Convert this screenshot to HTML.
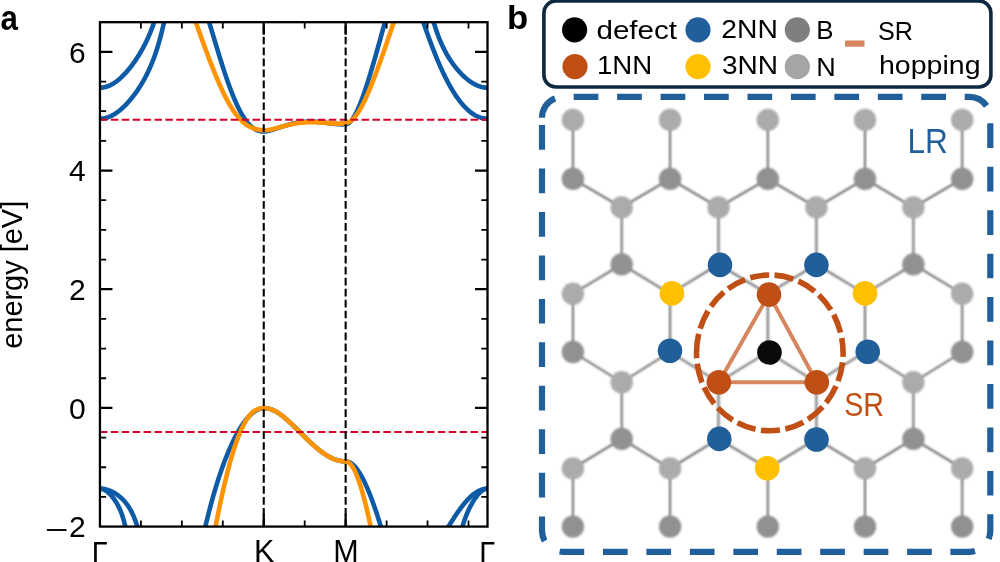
<!DOCTYPE html>
<html><head><meta charset="utf-8"><title>figure</title>
<style>html,body{margin:0;padding:0;background:#fff;overflow:hidden;}svg{display:block;will-change:transform;}text{font-family:"Liberation Sans",sans-serif;}</style>
</head><body>
<svg width="1000" height="562" viewBox="0 0 1000 562">
<defs><clipPath id="ax"><rect x="99.95" y="22.19" width="387.55" height="504.39"/></clipPath>
<filter id="bl" x="-10%" y="-10%" width="120%" height="120%"><feGaussianBlur stdDeviation="0.85"/></filter><filter id="bl2" x="-10%" y="-10%" width="120%" height="120%"><feGaussianBlur stdDeviation="0.8"/></filter></defs>
<rect width="1000" height="562" fill="#fff"/>
<g clip-path="url(#ax)" fill="none" stroke-linejoin="round" stroke-linecap="butt">
<path d="M99.95 87.70L100.45 87.69L100.95 87.68L101.45 87.65L101.95 87.60L102.45 87.55L102.95 87.49L103.45 87.41L103.95 87.32L104.45 87.22L104.95 87.11L105.45 86.98L105.95 86.85L106.45 86.70L106.95 86.54L107.45 86.37L107.95 86.19L108.45 86.00L108.95 85.79L109.45 85.58L109.95 85.35L110.45 85.11L110.95 84.86L111.45 84.60L111.95 84.33L112.45 84.05L112.95 83.75L113.45 83.45L113.95 83.13L114.45 82.81L114.95 82.47L115.45 82.13L115.95 81.77L116.45 81.40L116.95 81.03L117.45 80.64L117.95 80.24L118.45 79.83L118.95 79.42L119.45 78.99L119.95 78.55L120.45 78.11L120.95 77.65L121.45 77.18L121.95 76.71L122.45 76.22L122.95 75.73L123.45 75.23L123.95 74.71L124.45 74.19L124.95 73.66L125.45 73.12L125.95 72.57L126.45 72.01L126.95 71.44L127.45 70.87L127.95 70.28L128.45 69.69L128.95 69.08L129.45 68.47L129.95 67.85L130.45 67.21L130.95 66.57L131.45 65.92L131.95 65.26L132.45 64.59L132.95 63.91L133.45 63.22L133.95 62.52L134.45 61.82L134.95 61.10L135.45 60.37L135.95 59.63L136.45 58.88L136.95 58.11L137.45 57.34L137.95 56.56L138.45 55.76L138.95 54.95L139.45 54.13L139.95 53.30L140.45 52.45L140.95 51.60L141.45 50.72L141.95 49.84L142.45 48.93L142.95 48.02L143.45 47.09L143.95 46.14L144.45 45.17L144.95 44.19L145.45 43.19L145.95 42.17L146.45 41.14L146.95 40.08L147.45 39.01L147.95 37.91L148.45 36.79L148.95 35.65L149.45 34.49L149.95 33.30L150.45 32.08L150.95 30.84L151.45 29.58L151.95 28.28L152.45 26.96L152.95 25.60L153.45 24.22L153.95 22.80L154.45 21.35L154.95 19.87L155.45 18.35L155.95 16.79L156.45 15.19L156.95 13.55L157.45 11.88L157.95 10.15L158.45 8.39L158.95 6.58L159.45 4.72L159.95 2.81L160.45 0.85L160.95 -1.16L161.45 -3.23L161.95 -5.36" stroke="#0d5aa7" stroke-width="4.60"/>
<path d="M487.50 87.70L487.00 87.69L486.50 87.68L486.00 87.65L485.50 87.62L485.00 87.57L484.50 87.51L484.00 87.44L483.50 87.36L483.00 87.27L482.50 87.17L482.00 87.06L481.50 86.94L481.00 86.81L480.50 86.66L480.00 86.51L479.50 86.35L479.00 86.18L478.50 85.99L478.00 85.80L477.50 85.60L477.00 85.38L476.50 85.16L476.00 84.93L475.50 84.68L475.00 84.43L474.50 84.17L474.00 83.89L473.50 83.61L473.00 83.32L472.50 83.02L472.00 82.71L471.50 82.39L471.00 82.06L470.50 81.72L470.00 81.37L469.50 81.01L469.00 80.64L468.50 80.27L468.00 79.88L467.50 79.49L467.00 79.08L466.50 78.67L466.00 78.25L465.50 77.82L465.00 77.38L464.50 76.93L464.00 76.47L463.50 76.00L463.00 75.53L462.50 75.04L462.00 74.55L461.50 74.04L461.00 73.53L460.50 73.01L460.00 72.47L459.50 71.93L459.00 71.38L458.50 70.82L458.00 70.25L457.50 69.66L457.00 69.07L456.50 68.47L456.00 67.86L455.50 67.23L455.00 66.60L454.50 65.95L454.00 65.29L453.50 64.62L453.00 63.94L452.50 63.24L452.00 62.53L451.50 61.81L451.00 61.08L450.50 60.33L450.00 59.57L449.50 58.79L449.00 57.99L448.50 57.18L448.00 56.35L447.50 55.51L447.00 54.65L446.50 53.77L446.00 52.87L445.50 51.95L445.00 51.01L444.50 50.05L444.00 49.07L443.50 48.06L443.00 47.04L442.50 45.98L442.00 44.90L441.50 43.80L441.00 42.67L440.50 41.50L440.00 40.31L439.50 39.09L439.00 37.84L438.50 36.55L438.00 35.23L437.50 33.87L437.00 32.48L436.50 31.05L436.00 29.57L435.50 28.06L435.00 26.50L434.50 24.90L434.00 23.25L433.50 21.56L433.00 19.81L432.50 18.01L432.00 16.16L431.50 14.25L431.00 12.29L430.50 10.27L430.00 8.18L429.50 6.03L429.00 3.82L428.50 1.53L428.00 -0.82L427.50 -3.25L427.00 -5.75L426.50 -8.33L426.00 -11.00" stroke="#0d5aa7" stroke-width="4.60"/>
<path d="M99.95 118.70L100.45 118.69L100.95 118.68L101.45 118.65L101.95 118.61L102.45 118.56L102.95 118.50L103.45 118.43L103.95 118.35L104.45 118.25L104.95 118.15L105.45 118.03L105.95 117.91L106.45 117.77L106.95 117.62L107.45 117.47L107.95 117.30L108.45 117.12L108.95 116.93L109.45 116.73L109.95 116.51L110.45 116.29L110.95 116.06L111.45 115.82L111.95 115.57L112.45 115.30L112.95 115.03L113.45 114.75L113.95 114.46L114.45 114.15L114.95 113.84L115.45 113.52L115.95 113.19L116.45 112.85L116.95 112.49L117.45 112.13L117.95 111.76L118.45 111.38L118.95 111.00L119.45 110.60L119.95 110.19L120.45 109.77L120.95 109.35L121.45 108.92L121.95 108.47L122.45 108.02L122.95 107.56L123.45 107.09L123.95 106.61L124.45 106.12L124.95 105.63L125.45 105.12L125.95 104.61L126.45 104.09L126.95 103.56L127.45 103.02L127.95 102.47L128.45 101.92L128.95 101.35L129.45 100.78L129.95 100.19L130.45 99.60L130.95 99.00L131.45 98.39L131.95 97.77L132.45 97.15L132.95 96.51L133.45 95.87L133.95 95.21L134.45 94.55L134.95 93.87L135.45 93.19L135.95 92.49L136.45 91.79L136.95 91.07L137.45 90.35L137.95 89.61L138.45 88.86L138.95 88.10L139.45 87.33L139.95 86.55L140.45 85.75L140.95 84.94L141.45 84.12L141.95 83.29L142.45 82.44L142.95 81.58L143.45 80.70L143.95 79.80L144.45 78.90L144.95 77.97L145.45 77.03L145.95 76.07L146.45 75.09L146.95 74.10L147.45 73.08L147.95 72.05L148.45 70.99L148.95 69.92L149.45 68.82L149.95 67.69L150.45 66.55L150.95 65.38L151.45 64.18L151.95 62.96L152.45 61.71L152.95 60.43L153.45 59.13L153.95 57.79L154.45 56.42L154.95 55.02L155.45 53.58L155.95 52.11L156.45 50.60L156.95 49.06L157.45 47.47L157.95 45.85L158.45 44.18L158.95 42.47L159.45 40.72L159.95 38.91L160.45 37.06L160.95 35.17L161.45 33.22L161.95 31.21L162.45 29.15L162.95 27.04L163.45 24.86L163.95 22.63L164.45 20.33L164.95 17.97L165.45 15.54L165.95 13.04L166.45 10.47L166.95 7.83L167.45 5.11L167.95 2.31L168.45 -0.57L168.95 -3.53L169.45 -6.58L169.95 -9.72L170.45 -12.95L170.95 -16.27L171.45 -19.69L171.95 -23.21" stroke="#0d5aa7" stroke-width="4.60"/>
<path d="M487.50 118.70L487.00 118.69L486.50 118.68L486.00 118.65L485.50 118.61L485.00 118.56L484.50 118.50L484.00 118.42L483.50 118.34L483.00 118.24L482.50 118.14L482.00 118.02L481.50 117.89L481.00 117.75L480.50 117.60L480.00 117.43L479.50 117.26L479.00 117.07L478.50 116.88L478.00 116.67L477.50 116.45L477.00 116.21L476.50 115.97L476.00 115.72L475.50 115.45L475.00 115.17L474.50 114.88L474.00 114.58L473.50 114.27L473.00 113.95L472.50 113.61L472.00 113.27L471.50 112.91L471.00 112.54L470.50 112.15L470.00 111.76L469.50 111.35L469.00 110.94L468.50 110.51L468.00 110.07L467.50 109.61L467.00 109.15L466.50 108.67L466.00 108.18L465.50 107.68L465.00 107.17L464.50 106.65L464.00 106.11L463.50 105.56L463.00 105.00L462.50 104.43L462.00 103.84L461.50 103.24L461.00 102.63L460.50 102.01L460.00 101.38L459.50 100.73L459.00 100.07L458.50 99.40L458.00 98.72L457.50 98.02L457.00 97.31L456.50 96.59L456.00 95.86L455.50 95.12L455.00 94.36L454.50 93.59L454.00 92.80L453.50 92.01L453.00 91.20L452.50 90.38L452.00 89.55L451.50 88.70L451.00 87.85L450.50 86.98L450.00 86.09L449.50 85.20L449.00 84.29L448.50 83.37L448.00 82.44L447.50 81.49L447.00 80.54L446.50 79.57L446.00 78.58L445.50 77.59L445.00 76.58L444.50 75.56L444.00 74.53L443.50 73.49L443.00 72.43L442.50 71.37L442.00 70.29L441.50 69.19L441.00 68.09L440.50 66.97L440.00 65.85L439.50 64.71L439.00 63.56L438.50 62.39L438.00 61.22L437.50 60.03L437.00 58.84L436.50 57.63L436.00 56.41L435.50 55.18L435.00 53.94L434.50 52.68L434.00 51.42L433.50 50.15L433.00 48.86L432.50 47.57L432.00 46.26L431.50 44.95L431.00 43.62L430.50 42.29L430.00 40.94L429.50 39.59L429.00 38.23L428.50 36.85L428.00 35.47L427.50 34.08L427.00 32.69L426.50 31.28L426.00 29.87L425.50 28.45L425.00 27.02L424.50 25.58L424.00 24.14L423.50 22.68L423.00 21.23L422.50 19.76L422.00 18.30L421.50 16.82L421.00 15.34L420.50 13.86L420.00 12.37L419.50 10.87L419.00 9.37L418.50 7.87L418.00 6.37L417.50 4.86L417.00 3.35L416.50 1.83L416.00 0.32L415.50 -1.20" stroke="#0d5aa7" stroke-width="4.60"/>
<path d="M99.95 488.70L100.45 488.71L100.95 488.72L101.45 488.75L101.95 488.78L102.45 488.83L102.95 488.89L103.45 488.95L103.95 489.03L104.45 489.12L104.95 489.22L105.45 489.33L105.95 489.45L106.45 489.57L106.95 489.71L107.45 489.86L107.95 490.02L108.45 490.19L108.95 490.37L109.45 490.56L109.95 490.76L110.45 490.97L110.95 491.19L111.45 491.41L111.95 491.65L112.45 491.90L112.95 492.16L113.45 492.43L113.95 492.71L114.45 493.00L114.95 493.30L115.45 493.60L115.95 493.92L116.45 494.26L116.95 494.60L117.45 494.95L117.95 495.32L118.45 495.69L118.95 496.08L119.45 496.48L119.95 496.89L120.45 497.32L120.95 497.76L121.45 498.22L121.95 498.69L122.45 499.17L122.95 499.67L123.45 500.19L123.95 500.73L124.45 501.28L124.95 501.86L125.45 502.45L125.95 503.07L126.45 503.71L126.95 504.37L127.45 505.06L127.95 505.78L128.45 506.52L128.95 507.29L129.45 508.10L129.95 508.94L130.45 509.81L130.95 510.72L131.45 511.67L131.95 512.66L132.45 513.70L132.95 514.78L133.45 515.91L133.95 517.09L134.45 518.32L134.95 519.61L135.45 520.96L135.95 522.38L136.45 523.86L136.95 525.41L137.45 527.04L137.95 528.74L138.45 530.53L138.95 532.40L139.45 534.36L139.95 536.41L140.45 538.57L140.95 540.83L141.45 543.20L141.95 545.68L142.45 548.29L142.95 551.02L143.45 553.88L143.95 556.88L144.45 560.03L144.95 563.33" stroke="#0d5aa7" stroke-width="4.60"/>
<path d="M487.50 488.70L487.00 488.71L486.50 488.73L486.00 488.76L485.50 488.82L485.00 488.88L484.50 488.96L484.00 489.05L483.50 489.16L483.00 489.28L482.50 489.42L482.00 489.57L481.50 489.74L481.00 489.91L480.50 490.11L480.00 490.32L479.50 490.54L479.00 490.77L478.50 491.02L478.00 491.28L477.50 491.56L477.00 491.85L476.50 492.16L476.00 492.47L475.50 492.80L475.00 493.15L474.50 493.51L474.00 493.88L473.50 494.26L473.00 494.66L472.50 495.07L472.00 495.49L471.50 495.93L471.00 496.37L470.50 496.83L470.00 497.30L469.50 497.79L469.00 498.29L468.50 498.79L468.00 499.31L467.50 499.84L467.00 500.39L466.50 500.94L466.00 501.51L465.50 502.08L465.00 502.67L464.50 503.27L464.00 503.87L463.50 504.49L463.00 505.12L462.50 505.75L462.00 506.40L461.50 507.06L461.00 507.72L460.50 508.40L460.00 509.08L459.50 509.77L459.00 510.47L458.50 511.18L458.00 511.89L457.50 512.61L457.00 513.34L456.50 514.08L456.00 514.82L455.50 515.57L455.00 516.33L454.50 517.09L454.00 517.86L453.50 518.63L453.00 519.40L452.50 520.19L452.00 520.97L451.50 521.76L451.00 522.56L450.50 523.35L450.00 524.15L449.50 524.95L449.00 525.76L448.50 526.56L448.00 527.37L447.50 528.18L447.00 528.99L446.50 529.80L446.00 530.61L445.50 531.42L445.00 532.23L444.50 533.03L444.00 533.84L443.50 534.64L443.00 535.44L442.50 536.24L442.00 537.03L441.50 537.82L441.00 538.60" stroke="#0d5aa7" stroke-width="4.60"/>
<path d="M99.95 488.70L100.45 488.71L100.95 488.76L101.45 488.83L101.95 488.93L102.45 489.06L102.95 489.22L103.45 489.41L103.95 489.62L104.45 489.87L104.95 490.13L105.45 490.43L105.95 490.75L106.45 491.10L106.95 491.47L107.45 491.86L107.95 492.28L108.45 492.72L108.95 493.18L109.45 493.67L109.95 494.17L110.45 494.70L110.95 495.25L111.45 495.82L111.95 496.41L112.45 497.02L112.95 497.66L113.45 498.31L113.95 498.99L114.45 499.69L114.95 500.42L115.45 501.17L115.95 501.95L116.45 502.76L116.95 503.61L117.45 504.48L117.95 505.40L118.45 506.36L118.95 507.36L119.45 508.41L119.95 509.52L120.45 510.69L120.95 511.92L121.45 513.23L121.95 514.62L122.45 516.10L122.95 517.67L123.45 519.35L123.95 521.15L124.45 523.08L124.95 525.14L125.45 527.36L125.95 529.74L126.45 532.30L126.95 535.06L127.45 538.03L127.95 541.23L128.45 544.67L128.95 548.39L129.45 552.40L129.95 556.71L130.45 561.37L130.95 566.38L131.45 571.79L131.95 577.60L132.45 583.87L132.95 590.61" stroke="#0d5aa7" stroke-width="4.60"/>
<path d="M487.50 488.70L487.00 488.72L486.50 488.77L486.00 488.85L485.50 488.97L485.00 489.12L484.50 489.31L484.00 489.53L483.50 489.78L483.00 490.06L482.50 490.37L482.00 490.72L481.50 491.10L481.00 491.50L480.50 491.94L480.00 492.41L479.50 492.90L479.00 493.42L478.50 493.97L478.00 494.55L477.50 495.15L477.00 495.77L476.50 496.43L476.00 497.10L475.50 497.80L475.00 498.53L474.50 499.28L474.00 500.05L473.50 500.84L473.00 501.66L472.50 502.50L472.00 503.37L471.50 504.26L471.00 505.18L470.50 506.12L470.00 507.09L469.50 508.08L469.00 509.11L468.50 510.17L468.00 511.26L467.50 512.39L467.00 513.56L466.50 514.77L466.00 516.02L465.50 517.32L465.00 518.68L464.50 520.09L464.00 521.56L463.50 523.11L463.00 524.72L462.50 526.41L462.00 528.20L461.50 530.07L461.00 532.05L460.50 534.13L460.00 536.34L459.50 538.67L459.00 541.15L458.50 543.77L458.00 546.56L457.50 549.53L457.00 552.68L456.50 556.03L456.00 559.61L455.50 563.41L455.00 567.47" stroke="#0d5aa7" stroke-width="4.60"/>
<path d="M198.00 556.58L198.50 556.58L199.00 555.74L199.50 553.29L200.00 550.87L200.50 548.47L201.00 546.11L201.50 543.77L202.00 541.45L202.50 539.17L203.00 536.91L203.50 534.68L204.00 532.47L204.50 530.29L205.00 528.14L205.50 526.01L206.00 523.90L206.50 521.82L207.00 519.76L207.50 517.73L208.00 515.73L208.50 513.74L209.00 511.78L209.50 509.84L210.00 507.93L210.50 506.04L211.00 504.17L211.50 502.32L212.00 500.49L212.50 498.69L213.00 496.91L213.50 495.15L214.00 493.41L214.50 491.69L215.00 490.00L215.50 488.32L216.00 486.66L216.50 485.03L217.00 483.41L217.50 481.82L218.00 480.24L218.50 478.68L219.00 477.15L219.50 475.63L220.00 474.13L220.50 472.65L221.00 471.19L221.50 469.74L222.00 468.32L222.50 466.91L223.00 465.53L223.50 464.16L224.00 462.81L224.50 461.47L225.00 460.16L225.50 458.86L226.00 457.58L226.50 456.31L227.00 455.07L227.50 453.84L228.00 452.62L228.50 451.43L229.00 450.25L229.50 449.09L230.00 447.94L230.50 446.81L231.00 445.70L231.50 444.61L232.00 443.53L232.50 442.46L233.00 441.42L233.50 440.39L234.00 439.37L234.50 438.37L235.00 437.39L235.50 436.43L236.00 435.48L236.50 434.54L237.00 433.62L237.50 432.72L238.00 431.83L238.50 430.96L239.00 430.11L239.50 429.27L240.00 428.45L240.50 427.64L241.00 426.85L241.50 426.07L242.00 425.31L242.50 424.57L243.00 423.84L243.50 423.13L244.00 422.43L244.50 421.75L245.00 421.08L245.50 420.43L246.00 419.80L246.50 419.18L247.00 418.58L247.50 418.00L248.00 417.43L248.50 416.88L249.00 416.34L249.50 415.82L250.00 415.32L250.50 414.83L251.00 414.36L251.50 413.91L252.00 413.47L252.50 413.05L253.00 412.65L253.50 412.27L254.00 411.90L254.50 411.55L255.00 411.21L255.50 410.89L256.00 410.60L256.50 410.31L257.00 410.05L257.50 409.80L258.00 409.58L258.50 409.37L259.00 409.18L259.50 409.00L260.00 408.85L260.50 408.71L261.00 408.60L261.50 408.50L262.00 408.42L262.50 408.36L263.00 408.32L263.50 408.30L263.95 408.11L264.45 408.12L264.95 408.14L265.45 408.18L265.95 408.22L266.45 408.28L266.95 408.35L267.45 408.43L267.95 408.52L268.45 408.63L268.95 408.74L269.45 408.87L269.95 409.01L270.45 409.16L270.95 409.32L271.45 409.49L271.95 409.68L272.45 409.87L272.95 410.08L273.45 410.30L273.95 410.53L274.45 410.78L274.95 411.03L275.45 411.29L275.95 411.57L276.45 411.86L276.95 412.15L277.45 412.46L277.95 412.78L278.45 413.10L278.95 413.44L279.45 413.78L279.95 414.13L280.45 414.49L280.95 414.86L281.45 415.24L281.95 415.62L282.45 416.01L282.95 416.40L283.45 416.81L283.95 417.21L284.45 417.63L284.95 418.05L285.45 418.47L285.95 418.90L286.45 419.33L286.95 419.77L287.45 420.22L287.95 420.66L288.45 421.11L288.95 421.57L289.45 422.03L289.95 422.49L290.45 422.95L290.95 423.42L291.45 423.89L291.95 424.36L292.45 424.84L292.95 425.32L293.45 425.80L293.95 426.28L294.45 426.76L294.95 427.25L295.45 427.73L295.95 428.22L296.45 428.71L296.95 429.20L297.45 429.70L297.95 430.19L298.45 430.68L298.95 431.18L299.45 431.67L299.95 432.17L300.45 432.66L300.95 433.15L301.45 433.65L301.95 434.14L302.45 434.64L302.95 435.13L303.45 435.62L303.95 436.12L304.45 436.61L304.95 437.10L305.45 437.58L305.95 438.07L306.45 438.56L306.95 439.04L307.45 439.52L307.95 440.00L308.45 440.48L308.95 440.95L309.45 441.43L309.95 441.90L310.45 442.37L310.95 442.83L311.45 443.29L311.95 443.75L312.45 444.21L312.95 444.66L313.45 445.11L313.95 445.56L314.45 446.00L314.95 446.44L315.45 446.87L315.95 447.30L316.45 447.73L316.95 448.15L317.45 448.56L317.95 448.98L318.45 449.38L318.95 449.79L319.45 450.18L319.95 450.58L320.45 450.96L320.95 451.35L321.45 451.72L321.95 452.09L322.45 452.46L322.95 452.82L323.45 453.17L323.95 453.52L324.45 453.86L324.95 454.19L325.45 454.52L325.95 454.84L326.45 455.16L326.95 455.46L327.45 455.77L327.95 456.06L328.45 456.35L328.95 456.63L329.45 456.90L329.95 457.17L330.45 457.43L330.95 457.68L331.45 457.92L331.95 458.16L332.45 458.38L332.95 458.60L333.45 458.82L333.95 459.02L334.45 459.22L334.95 459.41L335.45 459.59L335.95 459.76L336.45 459.92L336.95 460.08L337.45 460.22L337.95 460.36L338.45 460.49L338.95 460.61L339.45 460.73L339.95 460.83L340.45 460.93L340.95 461.01L341.45 461.09L341.95 461.16L342.45 461.22L342.95 461.27L343.45 461.32L343.95 461.35L344.45 461.38L344.95 461.39L345.45 461.40L345.65 461.40L346.15 461.42L346.65 461.46L347.15 461.54L347.65 461.65L348.15 461.79L348.65 461.96L349.15 462.16L349.65 462.39L350.15 462.65L350.65 462.95L351.15 463.27L351.65 463.62L352.15 464.00L352.65 464.40L353.15 464.84L353.65 465.31L354.15 465.80L354.65 466.32L355.15 466.87L355.65 467.45L356.15 468.06L356.65 468.69L357.15 469.35L357.65 470.04L358.15 470.75L358.65 471.49L359.15 472.26L359.65 473.05L360.15 473.87L360.65 474.71L361.15 475.58L361.65 476.47L362.15 477.39L362.65 478.33L363.15 479.30L363.65 480.29L364.15 481.30L364.65 482.34L365.15 483.39L365.65 484.48L366.15 485.58L366.65 486.70L367.15 487.85L367.65 489.02L368.15 490.21L368.65 491.42L369.15 492.65L369.65 493.90L370.15 495.17L370.65 496.46L371.15 497.77L371.65 499.10L372.15 500.44L372.65 501.81L373.15 503.19L373.65 504.59L374.15 506.01L374.65 507.44L375.15 508.89L375.65 510.35L376.15 511.83L376.65 513.33L377.15 514.84L377.65 516.36L378.15 517.90L378.65 519.46L379.15 521.02L379.65 522.60L380.15 524.19L380.65 525.80L381.15 527.41L381.65 529.04L382.15 530.67L382.65 532.32L383.15 533.98L383.65 535.65L384.15 537.32L384.65 539.01L385.15 540.70L385.65 542.40L386.15 544.11L386.65 545.83L387.15 547.55L387.65 549.28" stroke="#0d5aa7" stroke-width="4.60"/>
<path d="M195.00 -7.81L195.50 -7.81L196.00 -7.81L196.50 -7.81L197.00 -7.81L197.50 -7.81L198.00 -7.81L198.50 -7.81L199.00 -7.13L199.50 -5.89L200.00 -4.63L200.50 -3.33L201.00 -2.01L201.50 -0.67L202.00 0.70L202.50 2.09L203.00 3.51L203.50 4.95L204.00 6.40L204.50 7.88L205.00 9.37L205.50 10.89L206.00 12.41L206.50 13.96L207.00 15.51L207.50 17.08L208.00 18.66L208.50 20.26L209.00 21.86L209.50 23.47L210.00 25.09L210.50 26.72L211.00 28.36L211.50 30.00L212.00 31.64L212.50 33.29L213.00 34.94L213.50 36.60L214.00 38.25L214.50 39.91L215.00 41.57L215.50 43.22L216.00 44.88L216.50 46.53L217.00 48.18L217.50 49.83L218.00 51.47L218.50 53.10L219.00 54.74L219.50 56.36L220.00 57.98L220.50 59.59L221.00 61.19L221.50 62.78L222.00 64.36L222.50 65.93L223.00 67.49L223.50 69.04L224.00 70.58L224.50 72.11L225.00 73.62L225.50 75.12L226.00 76.61L226.50 78.08L227.00 79.54L227.50 80.98L228.00 82.40L228.50 83.81L229.00 85.21L229.50 86.58L230.00 87.94L230.50 89.28L231.00 90.61L231.50 91.91L232.00 93.20L232.50 94.46L233.00 95.71L233.50 96.94L234.00 98.15L234.50 99.34L235.00 100.50L235.50 101.65L236.00 102.78L236.50 103.88L237.00 104.97L237.50 106.03L238.00 107.07L238.50 108.09L239.00 109.08L239.50 110.06L240.00 111.01L240.50 111.94L241.00 112.85L241.50 113.73L242.00 114.60L242.50 115.43L243.00 116.25L243.50 117.05L244.00 117.82L244.50 118.57L245.00 119.29L245.50 120.00L246.00 120.68L246.50 121.34L247.00 121.97L247.50 122.58L248.00 123.17L248.50 123.74L249.00 124.29L249.50 124.81L250.00 125.32L250.50 125.80L251.00 126.26L251.50 126.69L252.00 127.11L252.50 127.50L253.00 127.88L253.50 128.23L254.00 128.57L254.50 128.88L255.00 129.17L255.50 129.45L256.00 129.70L256.50 129.94L257.00 130.16L257.50 130.36L258.00 130.54L258.50 130.70L259.00 130.85L259.50 130.98L260.00 131.10L260.50 131.19L261.00 131.28L261.50 131.35L262.00 131.40L262.50 131.44L263.00 131.46L263.50 131.48L263.95 131.46L264.45 131.46L264.95 131.43L265.45 131.39L265.95 131.34L266.45 131.28L266.95 131.20L267.45 131.11L267.95 131.01L268.45 130.90L268.95 130.78L269.45 130.66L269.95 130.53L270.45 130.39L270.95 130.25L271.45 130.10L271.95 129.95L272.45 129.80L272.95 129.64L273.45 129.49L273.95 129.33L274.45 129.17L274.95 129.01L275.45 128.85L275.95 128.68L276.45 128.52L276.95 128.36L277.45 128.19L277.95 128.03L278.45 127.87L278.95 127.70L279.45 127.54L279.95 127.38L280.45 127.21L280.95 127.05L281.45 126.89L281.95 126.73L282.45 126.57L282.95 126.41L283.45 126.25L283.95 126.09L284.45 125.93L284.95 125.78L285.45 125.63L285.95 125.47L286.45 125.32L286.95 125.18L287.45 125.03L287.95 124.89L288.45 124.75L288.95 124.61L289.45 124.47L289.95 124.34L290.45 124.21L290.95 124.08L291.45 123.95L291.95 123.83L292.45 123.71L292.95 123.59L293.45 123.48L293.95 123.37L294.45 123.26L294.95 123.15L295.45 123.05L295.95 122.95L296.45 122.86L296.95 122.77L297.45 122.68L297.95 122.60L298.45 122.51L298.95 122.44L299.45 122.36L299.95 122.29L300.45 122.22L300.95 122.16L301.45 122.10L301.95 122.04L302.45 121.99L302.95 121.94L303.45 121.89L303.95 121.85L304.45 121.81L304.95 121.78L305.45 121.74L305.95 121.72L306.45 121.69L306.95 121.67L307.45 121.65L307.95 121.63L308.45 121.62L308.95 121.61L309.45 121.60L309.95 121.60L310.45 121.60L310.95 121.61L311.45 121.61L311.95 121.62L312.45 121.63L312.95 121.65L313.45 121.67L313.95 121.69L314.45 121.71L314.95 121.74L315.45 121.77L315.95 121.80L316.45 121.83L316.95 121.87L317.45 121.91L317.95 121.95L318.45 121.99L318.95 122.03L319.45 122.08L319.95 122.13L320.45 122.18L320.95 122.23L321.45 122.29L321.95 122.34L322.45 122.40L322.95 122.46L323.45 122.52L323.95 122.58L324.45 122.64L324.95 122.70L325.45 122.76L325.95 122.83L326.45 122.89L326.95 122.96L327.45 123.02L327.95 123.09L328.45 123.15L328.95 123.22L329.45 123.28L329.95 123.35L330.45 123.41L330.95 123.48L331.45 123.54L331.95 123.60L332.45 123.66L332.95 123.72L333.45 123.78L333.95 123.83L334.45 123.89L334.95 123.94L335.45 123.99L335.95 124.03L336.45 124.08L336.95 124.12L337.45 124.16L337.95 124.19L338.45 124.23L338.95 124.25L339.45 124.28L339.95 124.30L340.45 124.32L340.95 124.33L341.45 124.33L341.95 124.34L342.45 124.33L342.95 124.33L343.45 124.31L343.95 124.29L344.45 124.27L344.95 124.23L345.45 124.19L345.65 124.21L346.15 124.18L346.65 124.09L347.15 123.94L347.65 123.74L348.15 123.48L348.65 123.16L349.15 122.80L349.65 122.38L350.15 121.91L350.65 121.39L351.15 120.83L351.65 120.22L352.15 119.56L352.65 118.86L353.15 118.12L353.65 117.33L354.15 116.50L354.65 115.63L355.15 114.73L355.65 113.79L356.15 112.81L356.65 111.79L357.15 110.74L357.65 109.66L358.15 108.54L358.65 107.40L359.15 106.22L359.65 105.01L360.15 103.77L360.65 102.51L361.15 101.22L361.65 99.90L362.15 98.56L362.65 97.19L363.15 95.81L363.65 94.39L364.15 92.96L364.65 91.50L365.15 90.03L365.65 88.53L366.15 87.02L366.65 85.49L367.15 83.94L367.65 82.37L368.15 80.79L368.65 79.19L369.15 77.58L369.65 75.96L370.15 74.32L370.65 72.67L371.15 71.00L371.65 69.33L372.15 67.64L372.65 65.94L373.15 64.23L373.65 62.51L374.15 60.79L374.65 59.05L375.15 57.31L375.65 55.56L376.15 53.80L376.65 52.03L377.15 50.26L377.65 48.48L378.15 46.70L378.65 44.91L379.15 43.11L379.65 41.31L380.15 39.51L380.65 37.70L381.15 35.88L381.65 34.07L382.15 32.25L382.65 30.42L383.15 28.60L383.65 26.77L384.15 24.93L384.65 23.10L385.15 21.26L385.65 19.42L386.15 17.58L386.65 15.73L387.15 13.89L387.65 12.04L388.15 10.18L388.65 8.33L389.15 6.48L389.65 4.62L390.15 2.76L390.65 0.90L391.15 -0.96L391.65 -2.83L392.15 -4.70L392.65 -6.57L393.15 -7.81L393.65 -7.81L394.15 -7.81L394.65 -7.81" stroke="#0d5aa7" stroke-width="4.60"/>
<path d="M99.95 556.58L100.45 556.58L100.95 556.58L101.45 556.58L101.95 556.58L102.45 556.58L102.95 556.58L103.45 556.58L103.95 556.58L104.45 556.58L104.95 556.58L105.45 556.58L105.95 556.58L106.45 556.58L106.95 556.58L107.45 556.58L107.95 556.58L108.45 556.58L108.95 556.58L109.45 556.58L109.95 556.58L110.45 556.58L110.95 556.58L111.45 556.58L111.95 556.58L112.45 556.58L112.95 556.58L113.45 556.58L113.95 556.58L114.45 556.58L114.95 556.58L115.45 556.58L115.95 556.58L116.45 556.58L116.95 556.58L117.45 556.58L117.95 556.58L118.45 556.58L118.95 556.58L119.45 556.58L119.95 556.58L120.45 556.58L120.95 556.58L121.45 556.58L121.95 556.58L122.45 556.58L122.95 556.58L123.45 556.58L123.95 556.58L124.45 556.58L124.95 556.58L125.45 556.58L125.95 556.58L126.45 556.58L126.95 556.58L127.45 556.58L127.95 556.58L128.45 556.58L128.95 556.58L129.45 556.58L129.95 556.58L130.45 556.58L130.95 556.58L131.45 556.58L131.95 556.58L132.45 556.58L132.95 556.58L133.45 556.58L133.95 556.58L134.45 556.58L134.95 556.58L135.45 556.58L135.95 556.58L136.45 556.58L136.95 556.58L137.45 556.58L137.95 556.58L138.45 556.58L138.95 556.58L139.45 556.58L139.95 556.58L140.45 556.58L140.95 556.58L141.45 556.58L141.95 556.58L142.45 556.58L142.95 556.58L143.45 556.58L143.95 556.58L144.45 556.58L144.95 556.58L145.45 556.58L145.95 556.58L146.45 556.58L146.95 556.58L147.45 556.58L147.95 556.58L148.45 556.58L148.95 556.58L149.45 556.58L149.95 556.58L150.45 556.58L150.95 556.58L151.45 556.58L151.95 556.58L152.45 556.58L152.95 556.58L153.45 556.58L153.95 556.58L154.45 556.58L154.95 556.58L155.45 556.58L155.95 556.58L156.45 556.58L156.95 556.58L157.45 556.58L157.95 556.58L158.45 556.58L158.95 556.58L159.45 556.58L159.95 556.58L160.45 556.58L160.95 556.58L161.45 556.58L161.95 556.58L162.45 556.58L162.95 556.58L163.45 556.58L163.95 556.58L164.45 556.58L164.95 556.58L165.45 556.58L165.95 556.58L166.45 556.58L166.95 556.58L167.45 556.58L167.95 556.58L168.45 556.58L168.95 556.58L169.45 556.58L169.95 556.58L170.45 556.58L170.95 556.58L171.45 556.58L171.95 556.58L172.45 556.58L172.95 556.58L173.45 556.58L173.95 556.58L174.45 556.58L174.95 556.58L175.45 556.58L175.95 556.58L176.45 556.58L176.95 556.58L177.45 556.58L177.95 556.58L178.45 556.58L178.95 556.58L179.45 556.58L179.95 556.58L180.45 556.58L180.95 556.58L181.45 556.58L181.95 556.58L182.45 556.58L182.95 556.58L183.45 556.58L183.95 556.58L184.45 556.58L184.95 556.58L185.45 556.58L185.95 556.58L186.45 556.58L186.95 556.58L187.45 556.58L187.95 556.58L188.45 556.58L188.95 556.58L189.45 556.58L189.95 556.58L190.45 556.58L190.95 556.58L191.45 556.58L191.95 556.58L192.45 556.58L192.95 556.58L193.45 556.58L193.95 556.58L194.45 556.58L194.95 556.58L195.45 556.58L195.95 556.58L196.45 556.58L196.95 556.58L197.45 556.58L197.95 556.58L198.45 556.58L198.95 556.58L199.45 556.58L199.95 556.58L200.45 556.58L200.95 556.58L201.45 556.58L201.95 556.58L202.45 556.58L202.95 556.58L203.45 556.58L203.95 556.58L204.45 556.58L204.95 556.58L205.45 556.58L205.95 556.58L206.45 556.58L206.95 556.58L207.45 556.58L207.95 556.58L208.45 556.58L208.95 556.58L209.45 556.58L209.95 556.58L210.45 554.52L210.95 551.70L211.45 548.91L211.95 546.14L212.45 543.39L212.95 540.66L213.45 537.95L213.95 535.26L214.45 532.60L214.95 529.96L215.45 527.34L215.95 524.75L216.45 522.18L216.95 519.63L217.45 517.11L217.95 514.61L218.45 512.13L218.95 509.69L219.45 507.26L219.95 504.87L220.45 502.50L220.95 500.15L221.45 497.83L221.95 495.54L222.45 493.28L222.95 491.04L223.45 488.84L223.95 486.66L224.45 484.50L224.95 482.38L225.45 480.28L225.95 478.22L226.45 476.18L226.95 474.17L227.45 472.19L227.95 470.24L228.45 468.32L228.95 466.43L229.45 464.58L229.95 462.75L230.45 460.95L230.95 459.18L231.45 457.45L231.95 455.74L232.45 454.07L232.95 452.42L233.45 450.81L233.95 449.23L234.45 447.68L234.95 446.16L235.45 444.67L235.95 443.22L236.45 441.79L236.95 440.40L237.45 439.04L237.95 437.71L238.45 436.41L238.95 435.15L239.45 433.91L239.95 432.71L240.45 431.53L240.95 430.39L241.45 429.28L241.95 428.20L242.45 427.16L242.95 426.14L243.45 425.15L243.95 424.20L244.45 423.27L244.95 422.37L245.45 421.51L245.95 420.68L246.45 419.87L246.95 419.10L247.45 418.35L247.95 417.63L248.45 416.95L248.95 416.29L249.45 415.66L249.95 415.06L250.45 414.49L250.95 413.95L251.45 413.43L251.95 412.95L252.45 412.49L252.95 412.05L253.45 411.65L253.95 411.27L254.45 410.91L254.95 410.58L255.45 410.28L255.95 409.99L256.45 409.73L256.95 409.50L257.45 409.28L257.95 409.09L258.45 408.91L258.95 408.76L259.45 408.62L259.95 408.50L260.45 408.40L260.95 408.31L261.45 408.24L261.95 408.19L262.45 408.15L262.95 408.12L263.45 408.11L263.95 408.11L264.45 408.12L264.95 408.14L265.45 408.18L265.95 408.22L266.45 408.28L266.95 408.35L267.45 408.43L267.95 408.52L268.45 408.63L268.95 408.74L269.45 408.87L269.95 409.01L270.45 409.16L270.95 409.32L271.45 409.49L271.95 409.68L272.45 409.87L272.95 410.08L273.45 410.30L273.95 410.53L274.45 410.78L274.95 411.03L275.45 411.29L275.95 411.57L276.45 411.86L276.95 412.15L277.45 412.46L277.95 412.78L278.45 413.10L278.95 413.44L279.45 413.78L279.95 414.13L280.45 414.49L280.95 414.86L281.45 415.24L281.95 415.62L282.45 416.01L282.95 416.40L283.45 416.81L283.95 417.21L284.45 417.63L284.95 418.05L285.45 418.47L285.95 418.90L286.45 419.33L286.95 419.77L287.45 420.22L287.95 420.66L288.45 421.11L288.95 421.57L289.45 422.03L289.95 422.49L290.45 422.95L290.95 423.42L291.45 423.89L291.95 424.36L292.45 424.84L292.95 425.32L293.45 425.80L293.95 426.28L294.45 426.76L294.95 427.25L295.45 427.73L295.95 428.22L296.45 428.71L296.95 429.20L297.45 429.70L297.95 430.19L298.45 430.68L298.95 431.18L299.45 431.67L299.95 432.17L300.45 432.66L300.95 433.15L301.45 433.65L301.95 434.14L302.45 434.64L302.95 435.13L303.45 435.62L303.95 436.12L304.45 436.61L304.95 437.10L305.45 437.58L305.95 438.07L306.45 438.56L306.95 439.04L307.45 439.52L307.95 440.00L308.45 440.48L308.95 440.95L309.45 441.43L309.95 441.90L310.45 442.37L310.95 442.83L311.45 443.29L311.95 443.75L312.45 444.21L312.95 444.66L313.45 445.11L313.95 445.56L314.45 446.00L314.95 446.44L315.45 446.87L315.95 447.30L316.45 447.73L316.95 448.15L317.45 448.56L317.95 448.98L318.45 449.38L318.95 449.79L319.45 450.18L319.95 450.58L320.45 450.96L320.95 451.35L321.45 451.72L321.95 452.09L322.45 452.46L322.95 452.82L323.45 453.17L323.95 453.52L324.45 453.86L324.95 454.19L325.45 454.52L325.95 454.84L326.45 455.16L326.95 455.46L327.45 455.77L327.95 456.06L328.45 456.35L328.95 456.63L329.45 456.90L329.95 457.17L330.45 457.43L330.95 457.68L331.45 457.92L331.95 458.16L332.45 458.38L332.95 458.60L333.45 458.82L333.95 459.02L334.45 459.22L334.95 459.41L335.45 459.59L335.95 459.76L336.45 459.92L336.95 460.08L337.45 460.22L337.95 460.36L338.45 460.49L338.95 460.61L339.45 460.73L339.95 460.83L340.45 460.93L340.95 461.01L341.45 461.09L341.95 461.16L342.45 461.22L342.95 461.27L343.45 461.32L343.95 461.35L344.45 461.38L344.95 461.39L345.45 461.40L345.95 461.41L346.45 461.48L346.95 461.60L347.45 461.78L347.95 462.02L348.45 462.32L348.95 462.67L349.45 463.08L349.95 463.55L350.45 464.08L350.95 464.66L351.45 465.29L351.95 465.99L352.45 466.74L352.95 467.54L353.45 468.40L353.95 469.31L354.45 470.28L354.95 471.30L355.45 472.37L355.95 473.49L356.45 474.66L356.95 475.88L357.45 477.16L357.95 478.48L358.45 479.85L358.95 481.27L359.45 482.74L359.95 484.25L360.45 485.81L360.95 487.41L361.45 489.06L361.95 490.75L362.45 492.48L362.95 494.26L363.45 496.07L363.95 497.93L364.45 499.83L364.95 501.77L365.45 503.75L365.95 505.76L366.45 507.81L366.95 509.90L367.45 512.03L367.95 514.19L368.45 516.38L368.95 518.61L369.45 520.88L369.95 523.17L370.45 525.50L370.95 527.86L371.45 530.25L371.95 532.67L372.45 535.12L372.95 537.60L373.45 540.11L373.95 542.64L374.45 545.21L374.95 547.80L375.45 550.42L375.95 553.06L376.45 555.73L376.95 556.58L377.45 556.58L377.95 556.58L378.45 556.58L378.95 556.58L379.45 556.58L379.95 556.58L380.45 556.58L380.95 556.58L381.45 556.58L381.95 556.58L382.45 556.58L382.95 556.58L383.45 556.58L383.95 556.58L384.45 556.58L384.95 556.58L385.45 556.58L385.95 556.58L386.45 556.58L386.95 556.58L387.45 556.58L387.95 556.58L388.45 556.58L388.95 556.58L389.45 556.58L389.95 556.58L390.45 556.58L390.95 556.58L391.45 556.58L391.95 556.58L392.45 556.58L392.95 556.58L393.45 556.58L393.95 556.58L394.45 556.58L394.95 556.58L395.45 556.58L395.95 556.58L396.45 556.58L396.95 556.58L397.45 556.58L397.95 556.58L398.45 556.58L398.95 556.58L399.45 556.58L399.95 556.58L400.45 556.58L400.95 556.58L401.45 556.58L401.95 556.58L402.45 556.58L402.95 556.58L403.45 556.58L403.95 556.58L404.45 556.58L404.95 556.58L405.45 556.58L405.95 556.58L406.45 556.58L406.95 556.58L407.45 556.58L407.95 556.58L408.45 556.58L408.95 556.58L409.45 556.58L409.95 556.58L410.45 556.58L410.95 556.58L411.45 556.58L411.95 556.58L412.45 556.58L412.95 556.58L413.45 556.58L413.95 556.58L414.45 556.58L414.95 556.58L415.45 556.58L415.95 556.58L416.45 556.58L416.95 556.58L417.45 556.58L417.95 556.58L418.45 556.58L418.95 556.58L419.45 556.58L419.95 556.58L420.45 556.58L420.95 556.58L421.45 556.58L421.95 556.58L422.45 556.58L422.95 556.58L423.45 556.58L423.95 556.58L424.45 556.58L424.95 556.58L425.45 556.58L425.95 556.58L426.45 556.58L426.95 556.58L427.45 556.58L427.95 556.58L428.45 556.58L428.95 556.58L429.45 556.58L429.95 556.58L430.45 556.58L430.95 556.58L431.45 556.58L431.95 556.58L432.45 556.58L432.95 556.58L433.45 556.58L433.95 556.58L434.45 556.58L434.95 556.58L435.45 556.58L435.95 556.58L436.45 556.58L436.95 556.58L437.45 556.58L437.95 556.58L438.45 556.58L438.95 556.58L439.45 556.58L439.95 556.58L440.45 556.58L440.95 556.58L441.45 556.58L441.95 556.58L442.45 556.58L442.95 556.58L443.45 556.58L443.95 556.58L444.45 556.58L444.95 556.58L445.45 556.58L445.95 556.58L446.45 556.58L446.95 556.58L447.45 556.58L447.95 556.58L448.45 556.58L448.95 556.58L449.45 556.58L449.95 556.58L450.45 556.58L450.95 556.58L451.45 556.58L451.95 556.58L452.45 556.58L452.95 556.58L453.45 556.58L453.95 556.58L454.45 556.58L454.95 556.58L455.45 556.58L455.95 556.58L456.45 556.58L456.95 556.58L457.45 556.58L457.95 556.58L458.45 556.58L458.95 556.58L459.45 556.58L459.95 556.58L460.45 556.58L460.95 556.58L461.45 556.58L461.95 556.58L462.45 556.58L462.95 556.58L463.45 556.58L463.95 556.58L464.45 556.58L464.95 556.58L465.45 556.58L465.95 556.58L466.45 556.58L466.95 556.58L467.45 556.58L467.95 556.58L468.45 556.58L468.95 556.58L469.45 556.58L469.95 556.58L470.45 556.58L470.95 556.58L471.45 556.58L471.95 556.58L472.45 556.58L472.95 556.58L473.45 556.58L473.95 556.58L474.45 556.58L474.95 556.58L475.45 556.58L475.95 556.58L476.45 556.58L476.95 556.58L477.45 556.58L477.95 556.58L478.45 556.58L478.95 556.58L479.45 556.58L479.95 556.58L480.45 556.58L480.95 556.58L481.45 556.58L481.95 556.58L482.45 556.58L482.95 556.58L483.45 556.58L483.95 556.58L484.45 556.58L484.95 556.58L485.45 556.58L485.95 556.58L486.45 556.58L486.95 556.58L487.45 556.58" stroke="#ff9400" stroke-width="4.60"/>
<path d="M99.95 -7.81L100.45 -7.81L100.95 -7.81L101.45 -7.81L101.95 -7.81L102.45 -7.81L102.95 -7.81L103.45 -7.81L103.95 -7.81L104.45 -7.81L104.95 -7.81L105.45 -7.81L105.95 -7.81L106.45 -7.81L106.95 -7.81L107.45 -7.81L107.95 -7.81L108.45 -7.81L108.95 -7.81L109.45 -7.81L109.95 -7.81L110.45 -7.81L110.95 -7.81L111.45 -7.81L111.95 -7.81L112.45 -7.81L112.95 -7.81L113.45 -7.81L113.95 -7.81L114.45 -7.81L114.95 -7.81L115.45 -7.81L115.95 -7.81L116.45 -7.81L116.95 -7.81L117.45 -7.81L117.95 -7.81L118.45 -7.81L118.95 -7.81L119.45 -7.81L119.95 -7.81L120.45 -7.81L120.95 -7.81L121.45 -7.81L121.95 -7.81L122.45 -7.81L122.95 -7.81L123.45 -7.81L123.95 -7.81L124.45 -7.81L124.95 -7.81L125.45 -7.81L125.95 -7.81L126.45 -7.81L126.95 -7.81L127.45 -7.81L127.95 -7.81L128.45 -7.81L128.95 -7.81L129.45 -7.81L129.95 -7.81L130.45 -7.81L130.95 -7.81L131.45 -7.81L131.95 -7.81L132.45 -7.81L132.95 -7.81L133.45 -7.81L133.95 -7.81L134.45 -7.81L134.95 -7.81L135.45 -7.81L135.95 -7.81L136.45 -7.81L136.95 -7.81L137.45 -7.81L137.95 -7.81L138.45 -7.81L138.95 -7.81L139.45 -7.81L139.95 -7.81L140.45 -7.81L140.95 -7.81L141.45 -7.81L141.95 -7.81L142.45 -7.81L142.95 -7.81L143.45 -7.81L143.95 -7.81L144.45 -7.81L144.95 -7.81L145.45 -7.81L145.95 -7.81L146.45 -7.81L146.95 -7.81L147.45 -7.81L147.95 -7.81L148.45 -7.81L148.95 -7.81L149.45 -7.81L149.95 -7.81L150.45 -7.81L150.95 -7.81L151.45 -7.81L151.95 -7.81L152.45 -7.81L152.95 -7.81L153.45 -7.81L153.95 -7.81L154.45 -7.81L154.95 -7.81L155.45 -7.81L155.95 -7.81L156.45 -7.81L156.95 -7.81L157.45 -7.81L157.95 -7.81L158.45 -7.81L158.95 -7.81L159.45 -7.81L159.95 -7.81L160.45 -7.81L160.95 -7.81L161.45 -7.81L161.95 -7.81L162.45 -7.81L162.95 -7.81L163.45 -7.81L163.95 -7.81L164.45 -7.81L164.95 -7.81L165.45 -7.81L165.95 -7.81L166.45 -7.81L166.95 -7.81L167.45 -7.81L167.95 -7.81L168.45 -7.81L168.95 -7.81L169.45 -7.81L169.95 -7.81L170.45 -7.81L170.95 -7.81L171.45 -7.81L171.95 -7.81L172.45 -7.81L172.95 -7.81L173.45 -7.81L173.95 -7.81L174.45 -7.81L174.95 -7.81L175.45 -7.81L175.95 -7.81L176.45 -7.81L176.95 -7.81L177.45 -7.81L177.95 -7.81L178.45 -7.81L178.95 -7.81L179.45 -7.81L179.95 -7.81L180.45 -7.81L180.95 -7.81L181.45 -7.81L181.95 -7.81L182.45 -7.81L182.95 -7.81L183.45 -7.81L183.95 -7.81L184.45 -7.81L184.95 -7.81L185.45 -6.91L185.95 -5.52L186.45 -4.12L186.95 -2.73L187.45 -1.33L187.95 0.07L188.45 1.47L188.95 2.88L189.45 4.28L189.95 5.69L190.45 7.10L190.95 8.50L191.45 9.91L191.95 11.32L192.45 12.74L192.95 14.15L193.45 15.56L193.95 16.97L194.45 18.38L194.95 19.79L195.45 21.20L195.95 22.61L196.45 24.02L196.95 25.43L197.45 26.84L197.95 28.24L198.45 29.64L198.95 31.04L199.45 32.44L199.95 33.84L200.45 35.24L200.95 36.63L201.45 38.02L201.95 39.40L202.45 40.78L202.95 42.16L203.45 43.54L203.95 44.91L204.45 46.28L204.95 47.64L205.45 49.00L205.95 50.35L206.45 51.70L206.95 53.04L207.45 54.38L207.95 55.71L208.45 57.03L208.95 58.35L209.45 59.67L209.95 60.97L210.45 62.27L210.95 63.57L211.45 64.85L211.95 66.13L212.45 67.40L212.95 68.66L213.45 69.91L213.95 71.16L214.45 72.39L214.95 73.62L215.45 74.84L215.95 76.05L216.45 77.25L216.95 78.44L217.45 79.62L217.95 80.78L218.45 81.94L218.95 83.09L219.45 84.23L219.95 85.35L220.45 86.46L220.95 87.57L221.45 88.66L221.95 89.73L222.45 90.80L222.95 91.85L223.45 92.89L223.95 93.92L224.45 94.94L224.95 95.94L225.45 96.93L225.95 97.90L226.45 98.86L226.95 99.81L227.45 100.74L227.95 101.66L228.45 102.56L228.95 103.45L229.45 104.32L229.95 105.18L230.45 106.02L230.95 106.85L231.45 107.66L231.95 108.46L232.45 109.24L232.95 110.01L233.45 110.76L233.95 111.50L234.45 112.22L234.95 112.92L235.45 113.61L235.95 114.28L236.45 114.93L236.95 115.57L237.45 116.20L237.95 116.80L238.45 117.40L238.95 117.97L239.45 118.53L239.95 119.07L240.45 119.60L240.95 120.11L241.45 120.61L241.95 121.09L242.45 121.56L242.95 122.01L243.45 122.44L243.95 122.86L244.45 123.26L244.95 123.65L245.45 124.03L245.95 124.39L246.45 124.74L246.95 125.07L247.45 125.39L247.95 125.70L248.45 125.99L248.95 126.27L249.45 126.54L249.95 126.80L250.45 127.05L250.95 127.28L251.45 127.50L251.95 127.72L252.45 127.92L252.95 128.12L253.45 128.30L253.95 128.48L254.45 128.65L254.95 128.81L255.45 128.96L255.95 129.11L256.45 129.24L256.95 129.37L257.45 129.49L257.95 129.61L258.45 129.71L258.95 129.81L259.45 129.90L259.95 129.98L260.45 130.05L260.95 130.11L261.45 130.16L261.95 130.20L262.45 130.23L262.95 130.25L263.45 130.26L263.95 130.28L264.45 130.30L264.95 130.31L265.45 130.31L265.95 130.29L266.45 130.26L266.95 130.21L267.45 130.16L267.95 130.09L268.45 130.02L268.95 129.93L269.45 129.84L269.95 129.74L270.45 129.64L270.95 129.53L271.45 129.42L271.95 129.30L272.45 129.18L272.95 129.05L273.45 128.93L273.95 128.80L274.45 128.67L274.95 128.54L275.45 128.41L275.95 128.28L276.45 128.15L276.95 128.02L277.45 127.88L277.95 127.75L278.45 127.61L278.95 127.48L279.45 127.34L279.95 127.21L280.45 127.07L280.95 126.93L281.45 126.80L281.95 126.66L282.45 126.53L282.95 126.40L283.45 126.26L283.95 126.13L284.45 126.00L284.95 125.87L285.45 125.74L285.95 125.61L286.45 125.48L286.95 125.35L287.45 125.23L287.95 125.11L288.45 124.99L288.95 124.87L289.45 124.75L289.95 124.64L290.45 124.52L290.95 124.41L291.45 124.30L291.95 124.20L292.45 124.09L292.95 123.99L293.45 123.89L293.95 123.80L294.45 123.70L294.95 123.61L295.45 123.52L295.95 123.44L296.45 123.36L296.95 123.27L297.45 123.20L297.95 123.12L298.45 123.05L298.95 122.98L299.45 122.92L299.95 122.85L300.45 122.79L300.95 122.73L301.45 122.68L301.95 122.63L302.45 122.58L302.95 122.53L303.45 122.49L303.95 122.45L304.45 122.41L304.95 122.38L305.45 122.35L305.95 122.32L306.45 122.29L306.95 122.27L307.45 122.25L307.95 122.23L308.45 122.21L308.95 122.20L309.45 122.19L309.95 122.18L310.45 122.17L310.95 122.17L311.45 122.17L311.95 122.17L312.45 122.18L312.95 122.18L313.45 122.19L313.95 122.20L314.45 122.22L314.95 122.23L315.45 122.25L315.95 122.27L316.45 122.29L316.95 122.31L317.45 122.34L317.95 122.36L318.45 122.39L318.95 122.42L319.45 122.45L319.95 122.48L320.45 122.52L320.95 122.55L321.45 122.59L321.95 122.63L322.45 122.66L322.95 122.70L323.45 122.74L323.95 122.78L324.45 122.82L324.95 122.86L325.45 122.90L325.95 122.95L326.45 122.99L326.95 123.03L327.45 123.07L327.95 123.11L328.45 123.15L328.95 123.19L329.45 123.23L329.95 123.27L330.45 123.31L330.95 123.35L331.45 123.38L331.95 123.42L332.45 123.45L332.95 123.48L333.45 123.51L333.95 123.54L334.45 123.57L334.95 123.59L335.45 123.61L335.95 123.63L336.45 123.64L336.95 123.66L337.45 123.66L337.95 123.67L338.45 123.67L338.95 123.67L339.45 123.66L339.95 123.65L340.45 123.64L340.95 123.62L341.45 123.60L341.95 123.57L342.45 123.53L342.95 123.49L343.45 123.45L343.95 123.40L344.45 123.34L344.95 123.28L345.45 123.21L345.96 123.12L346.48 122.99L346.99 122.85L347.51 122.67L348.02 122.47L348.54 122.24L349.06 121.98L349.57 121.69L350.09 121.37L350.61 121.02L351.12 120.64L351.64 120.22L352.15 119.78L352.67 119.31L353.19 118.80L353.70 118.27L354.22 117.70L354.74 117.11L355.25 116.49L355.77 115.83L356.28 115.15L356.80 114.44L357.32 113.71L357.83 112.94L358.35 112.15L358.87 111.33L359.38 110.49L359.90 109.62L360.41 108.73L360.93 107.81L361.45 106.87L361.96 105.91L362.48 104.92L363.00 103.91L363.51 102.88L364.03 101.83L364.54 100.77L365.06 99.68L365.58 98.57L366.09 97.44L366.61 96.30L367.13 95.14L367.64 93.96L368.16 92.77L368.67 91.56L369.19 90.34L369.71 89.10L370.22 87.85L370.74 86.58L371.26 85.30L371.77 84.01L372.29 82.71L372.80 81.40L373.32 80.07L373.84 78.74L374.35 77.39L374.87 76.04L375.39 74.67L375.90 73.30L376.42 71.92L376.93 70.53L377.45 69.13L377.97 67.72L378.48 66.31L379.00 64.89L379.52 63.47L380.03 62.04L380.55 60.60L381.06 59.16L381.58 57.71L382.10 56.26L382.61 54.81L383.13 53.35L383.65 51.89L384.16 50.42L384.68 48.95L385.19 47.48L385.71 46.01L386.23 44.53L386.74 43.05L387.25 41.57L387.75 40.09L388.25 38.60L388.75 37.12L389.25 35.63L389.75 34.15L390.25 32.66L390.75 31.17L391.25 29.68L391.75 28.20L392.25 26.71L392.75 25.22L393.25 23.74L393.75 22.25L394.25 20.77L394.75 19.29L395.25 17.81L395.75 16.33L396.25 14.85L396.75 13.38L397.25 11.90L397.75 10.43L398.25 8.96L398.75 7.50L399.25 6.03L399.75 4.57L400.25 3.11L400.75 1.66L401.25 0.21L401.75 -1.24L402.25 -2.68L402.75 -4.12L403.25 -5.56L403.75 -6.99L404.25 -7.81L404.75 -7.81L405.25 -7.81L405.75 -7.81L406.25 -7.81L406.75 -7.81L407.25 -7.81L407.75 -7.81L408.25 -7.81L408.75 -7.81L409.25 -7.81L409.75 -7.81L410.25 -7.81L410.75 -7.81L411.25 -7.81L411.75 -7.81L412.25 -7.81L412.75 -7.81L413.25 -7.81L413.75 -7.81L414.25 -7.81L414.75 -7.81L415.25 -7.81L415.75 -7.81L416.25 -7.81L416.75 -7.81L417.25 -7.81L417.75 -7.81L418.25 -7.81L418.75 -7.81L419.25 -7.81L419.75 -7.81L420.25 -7.81L420.75 -7.81L421.25 -7.81L421.75 -7.81L422.25 -7.81L422.75 -7.81L423.25 -7.81L423.75 -7.81L424.25 -7.81L424.75 -7.81L425.25 -7.81L425.75 -7.81L426.25 -7.81L426.75 -7.81L427.25 -7.81L427.75 -7.81L428.25 -7.81L428.75 -7.81L429.25 -7.81L429.75 -7.81L430.25 -7.81L430.75 -7.81L431.25 -7.81L431.75 -7.81L432.25 -7.81L432.75 -7.81L433.25 -7.81L433.75 -7.81L434.25 -7.81L434.75 -7.81L435.25 -7.81L435.75 -7.81L436.25 -7.81L436.75 -7.81L437.25 -7.81L437.75 -7.81L438.25 -7.81L438.75 -7.81L439.25 -7.81L439.75 -7.81L440.25 -7.81L440.75 -7.81L441.25 -7.81L441.75 -7.81L442.25 -7.81L442.75 -7.81L443.25 -7.81L443.75 -7.81L444.25 -7.81L444.75 -7.81L445.25 -7.81L445.75 -7.81L446.25 -7.81L446.75 -7.81L447.25 -7.81L447.75 -7.81L448.25 -7.81L448.75 -7.81L449.25 -7.81L449.75 -7.81L450.25 -7.81L450.75 -7.81L451.25 -7.81L451.75 -7.81L452.25 -7.81L452.75 -7.81L453.25 -7.81L453.75 -7.81L454.25 -7.81L454.75 -7.81L455.25 -7.81L455.75 -7.81L456.25 -7.81L456.75 -7.81L457.25 -7.81L457.75 -7.81L458.25 -7.81L458.75 -7.81L459.25 -7.81L459.75 -7.81L460.25 -7.81L460.75 -7.81L461.25 -7.81L461.75 -7.81L462.25 -7.81L462.75 -7.81L463.25 -7.81L463.75 -7.81L464.25 -7.81L464.75 -7.81L465.25 -7.81L465.75 -7.81L466.25 -7.81L466.75 -7.81L467.25 -7.81L467.75 -7.81L468.25 -7.81L468.75 -7.81L469.25 -7.81L469.75 -7.81L470.25 -7.81L470.75 -7.81L471.25 -7.81L471.75 -7.81L472.25 -7.81L472.75 -7.81L473.25 -7.81L473.75 -7.81L474.25 -7.81L474.75 -7.81L475.25 -7.81L475.75 -7.81L476.25 -7.81L476.75 -7.81L477.25 -7.81L477.75 -7.81L478.25 -7.81L478.75 -7.81L479.25 -7.81L479.75 -7.81L480.25 -7.81L480.75 -7.81L481.25 -7.81L481.75 -7.81L482.25 -7.81L482.75 -7.81L483.25 -7.81L483.75 -7.81L484.25 -7.81L484.75 -7.81L485.25 -7.81L485.75 -7.81L486.25 -7.81L486.75 -7.81L487.25 -7.81L487.75 -7.81L488.25 -7.81L488.75 -7.81" stroke="#ff9400" stroke-width="4.60"/>
<line x1="99.95" y1="119.80" x2="487.50" y2="119.80" stroke="#d8002a" stroke-width="2" stroke-dasharray="7.5 3.4"/>
<line x1="99.95" y1="431.93" x2="487.50" y2="431.93" stroke="#d8002a" stroke-width="2" stroke-dasharray="7.5 3.4"/>
<line x1="263.75" y1="526.58" x2="263.75" y2="22.19" stroke="#000" stroke-width="2.1" stroke-dasharray="7.7 3.26"/>
<line x1="345.65" y1="526.58" x2="345.65" y2="22.19" stroke="#000" stroke-width="2.1" stroke-dasharray="7.7 3.26"/>
</g>
<rect x="99.95" y="22.19" width="387.55" height="504.39" fill="none" stroke="#000" stroke-width="2.3"/>
<path d="M99.95 407.90h12.50M487.50 407.90h-12.50M99.95 289.22h12.50M487.50 289.22h-12.50M99.95 170.54h12.50M487.50 170.54h-12.50M99.95 51.86h12.50M487.50 51.86h-12.50" stroke="#000" stroke-width="2.3" fill="none"/>
<path d="M99.95 496.91h6.20M487.50 496.91h-6.20M99.95 467.24h6.20M487.50 467.24h-6.20M99.95 437.57h6.20M487.50 437.57h-6.20M99.95 378.23h6.20M487.50 378.23h-6.20M99.95 348.56h6.20M487.50 348.56h-6.20M99.95 318.89h6.20M487.50 318.89h-6.20M99.95 259.55h6.20M487.50 259.55h-6.20M99.95 229.88h6.20M487.50 229.88h-6.20M99.95 200.21h6.20M487.50 200.21h-6.20M99.95 140.87h6.20M487.50 140.87h-6.20M99.95 111.20h6.20M487.50 111.20h-6.20M99.95 81.53h6.20M487.50 81.53h-6.20M140.90 526.58v-6.20M140.90 22.19v6.20M181.85 526.58v-6.20M181.85 22.19v6.20M222.80 526.58v-6.20M222.80 22.19v6.20M304.70 526.58v-6.20M304.70 22.19v6.20M386.60 526.58v-6.20M386.60 22.19v6.20M427.55 526.58v-6.20M427.55 22.19v6.20M468.50 526.58v-6.20M468.50 22.19v6.20" stroke="#000" stroke-width="1.8" fill="none"/>
<path d="M263.75 526.58v-12.50M263.75 22.19v12.50M345.65 526.58v-12.50M345.65 22.19v12.50" stroke="#000" stroke-width="2.3" fill="none"/>
<g font-family="Liberation Sans, sans-serif" font-size="30.0" fill="#000">
<rect x="46.9" y="529.05" width="19.6" height="1.9" fill="#000"/>
<text x="85.6" y="62.60" text-anchor="end">6</text>
<text x="85.6" y="181.28" text-anchor="end">4</text>
<text x="85.6" y="299.96" text-anchor="end">2</text>
<text x="85.6" y="418.64" text-anchor="end">0</text>
<text x="85.6" y="537.32" text-anchor="end">2</text>
<text x="99.75" y="563.7" font-size="30.5" text-anchor="middle" textLength="15.95" lengthAdjust="spacingAndGlyphs">Γ</text>
<text x="264.05" y="562.2" font-size="30.5" text-anchor="middle">K</text>
<text x="345.85" y="562.2" font-size="30.5" text-anchor="middle">M</text>
<text x="487.30" y="563.7" font-size="30.5" text-anchor="middle" textLength="15.95" lengthAdjust="spacingAndGlyphs">Γ</text>
<text transform="translate(21.8 274.8) rotate(-90)" text-anchor="middle" textLength="148" lengthAdjust="spacingAndGlyphs">energy [eV]</text>
</g>
<text x="0.4" y="29.6" font-family="Liberation Sans, sans-serif" font-weight="bold" font-size="34.5" textLength="17.4" lengthAdjust="spacingAndGlyphs">a</text>
<text x="507.0" y="29.4" font-family="Liberation Sans, sans-serif" font-weight="bold" font-size="34" textLength="21.2" lengthAdjust="spacingAndGlyphs">b</text>
<rect x="543.9" y="0.9" width="447" height="86.1" rx="12" ry="12" fill="#fff" stroke="#0e2841" stroke-width="3.6"/>
<circle cx="574.6" cy="29.8" r="12.6" fill="#000"/>
<circle cx="575.0" cy="66.6" r="12.6" fill="#c04f15"/>
<circle cx="698.0" cy="29.8" r="12.6" fill="#215f9a"/>
<circle cx="698.0" cy="66.6" r="12.6" fill="#ffc000"/>
<circle cx="797.3" cy="29.8" r="12.6" fill="#7f7f7f"/>
<circle cx="797.3" cy="66.7" r="12.6" fill="#a5a5a5"/>
<rect x="845" y="40.5" width="19.5" height="6.2" fill="#d6865f"/>
<text x="596.5" y="39.1" font-size="26.5" textLength="80.5" lengthAdjust="spacingAndGlyphs">defect</text>
<text x="597.0" y="74.1" font-size="26.5" textLength="55.3" lengthAdjust="spacingAndGlyphs">1NN</text>
<text x="721.3" y="38.4" font-size="26.5" textLength="56.5" lengthAdjust="spacingAndGlyphs">2NN</text>
<text x="721.9" y="74.4" font-size="26.5" textLength="56.0" lengthAdjust="spacingAndGlyphs">3NN</text>
<text x="816.2" y="39.1" font-size="26.5" textLength="17.3" lengthAdjust="spacingAndGlyphs">B</text>
<text x="816.2" y="75.5" font-size="26.5" textLength="19.5" lengthAdjust="spacingAndGlyphs">N</text>
<text x="878.0" y="39.5" font-size="26.5" textLength="35.0" lengthAdjust="spacingAndGlyphs">SR</text>
<text x="879.0" y="73.9" font-size="26.5" textLength="101.5" lengthAdjust="spacingAndGlyphs">hopping</text>
<path d="M572.9 178.9L572.9 119.9M572.9 178.9L621.7 207.4M670.1 178.9L670.1 119.9M670.1 178.9L621.7 207.4M670.1 178.9L718.5 207.4M767.8 178.9L767.8 119.9M767.8 178.9L718.5 207.4M767.8 178.9L816.4 207.4M865.0 178.9L865.0 119.9M865.0 178.9L816.4 207.4M865.0 178.9L913.4 207.4M962.2 178.9L962.2 119.9M962.2 178.9L913.4 207.4M621.7 264.4L621.7 207.4M621.7 264.4L572.9 293.8M621.7 264.4L670.1 293.8M718.5 264.4L718.5 207.4M718.5 264.4L670.1 293.8M718.5 264.4L767.8 293.8M816.4 264.4L816.4 207.4M816.4 264.4L767.8 293.8M816.4 264.4L865.0 293.8M913.4 264.4L913.4 207.4M913.4 264.4L865.0 293.8M913.4 264.4L962.2 293.8M572.9 352.0L572.9 293.8M572.9 352.0L621.7 382.3M670.1 352.0L670.1 293.8M670.1 352.0L621.7 382.3M670.1 352.0L718.5 382.3M767.8 352.0L767.8 293.8M767.8 352.0L718.5 382.3M767.8 352.0L816.4 382.3M865.0 352.0L865.0 293.8M865.0 352.0L816.4 382.3M865.0 352.0L913.4 382.3M962.2 352.0L962.2 293.8M962.2 352.0L913.4 382.3M621.7 438.9L621.7 382.3M621.7 438.9L572.9 468.4M621.7 438.9L670.1 468.4M718.5 438.9L718.5 382.3M718.5 438.9L670.1 468.4M718.5 438.9L767.8 468.4M816.4 438.9L816.4 382.3M816.4 438.9L767.8 468.4M816.4 438.9L865.0 468.4M913.4 438.9L913.4 382.3M913.4 438.9L865.0 468.4M913.4 438.9L962.2 468.4M572.9 526.6L572.9 468.4M670.1 526.6L670.1 468.4M767.8 526.6L767.8 468.4M865.0 526.6L865.0 468.4M962.2 526.6L962.2 468.4" stroke="#646464" stroke-width="1.9" fill="none" filter="url(#bl2)"/>
<g filter="url(#bl)">
<circle cx="572.9" cy="119.9" r="11.2" fill="#ababab"/>
<circle cx="670.1" cy="119.9" r="11.2" fill="#ababab"/>
<circle cx="767.8" cy="119.9" r="11.2" fill="#ababab"/>
<circle cx="865.0" cy="119.9" r="11.2" fill="#ababab"/>
<circle cx="962.2" cy="119.9" r="11.2" fill="#ababab"/>
<circle cx="572.9" cy="178.9" r="11.2" fill="#919191"/>
<circle cx="670.1" cy="178.9" r="11.2" fill="#919191"/>
<circle cx="767.8" cy="178.9" r="11.2" fill="#919191"/>
<circle cx="865.0" cy="178.9" r="11.2" fill="#919191"/>
<circle cx="962.2" cy="178.9" r="11.2" fill="#919191"/>
<circle cx="621.7" cy="207.4" r="11.2" fill="#ababab"/>
<circle cx="718.5" cy="207.4" r="11.2" fill="#ababab"/>
<circle cx="816.4" cy="207.4" r="11.2" fill="#ababab"/>
<circle cx="913.4" cy="207.4" r="11.2" fill="#ababab"/>
<circle cx="621.7" cy="264.4" r="11.2" fill="#919191"/>
<circle cx="913.4" cy="264.4" r="11.2" fill="#919191"/>
<circle cx="572.9" cy="293.8" r="11.2" fill="#ababab"/>
<circle cx="962.2" cy="293.8" r="11.2" fill="#ababab"/>
<circle cx="572.9" cy="352.0" r="11.2" fill="#919191"/>
<circle cx="962.2" cy="352.0" r="11.2" fill="#919191"/>
<circle cx="621.7" cy="382.3" r="11.2" fill="#ababab"/>
<circle cx="913.4" cy="382.3" r="11.2" fill="#ababab"/>
<circle cx="621.7" cy="438.9" r="11.2" fill="#919191"/>
<circle cx="913.4" cy="438.9" r="11.2" fill="#919191"/>
<circle cx="572.9" cy="468.4" r="11.2" fill="#ababab"/>
<circle cx="670.1" cy="468.4" r="11.2" fill="#ababab"/>
<circle cx="865.0" cy="468.4" r="11.2" fill="#ababab"/>
<circle cx="962.2" cy="468.4" r="11.2" fill="#ababab"/>
<circle cx="572.9" cy="526.6" r="11.2" fill="#919191"/>
<circle cx="670.1" cy="526.6" r="11.2" fill="#919191"/>
<circle cx="767.8" cy="526.6" r="11.2" fill="#919191"/>
<circle cx="865.0" cy="526.6" r="11.2" fill="#919191"/>
<circle cx="962.2" cy="526.6" r="11.2" fill="#919191"/>
</g>
<circle cx="720.00" cy="264.90" r="12.3" fill="#215f9a"/>
<circle cx="816.40" cy="264.90" r="12.3" fill="#215f9a"/>
<circle cx="671.90" cy="293.40" r="12.3" fill="#ffc000"/>
<circle cx="865.00" cy="293.40" r="12.3" fill="#ffc000"/>
<circle cx="670.00" cy="350.80" r="12.3" fill="#215f9a"/>
<circle cx="769.45" cy="352.50" r="12.3" fill="#0a0a0a"/>
<circle cx="867.70" cy="351.80" r="12.3" fill="#215f9a"/>
<circle cx="719.30" cy="438.90" r="12.3" fill="#215f9a"/>
<circle cx="816.50" cy="439.50" r="12.3" fill="#215f9a"/>
<circle cx="767.20" cy="468.30" r="12.3" fill="#ffc000"/>
<path d="M769.0 294.6L718.9 382.2L816.8 382.2Z" stroke="#d6865f" stroke-width="4" fill="none"/>
<circle cx="769.00" cy="294.60" r="12.3" fill="#c04f15"/>
<circle cx="718.90" cy="382.20" r="12.3" fill="#c04f15"/>
<circle cx="816.80" cy="382.20" r="12.3" fill="#c04f15"/>
<path d="M696.50 352.90A73.30 78.00 0 0 1 843.10 352.90A73.30 78.00 0 0 1 696.50 352.90" fill="none" stroke="#c04f15" stroke-width="5.6" stroke-dasharray="19.20 5.48"/>
<path d="M542.0 117.8A21.0 21.0 0 0 1 563.0 96.8L969.3 96.8A21.0 21.0 0 0 1 990.3 117.8L990.3 120.5" fill="none" stroke="#215f9a" stroke-width="6.2" stroke-dasharray="24.7 18.75" stroke-dashoffset="0.00"/>
<path d="M990.3 120.5L990.3 530.8A21.0 21.0 0 0 1 969.3 551.8L940.0 551.8" fill="none" stroke="#215f9a" stroke-width="6.2" stroke-dasharray="24.7 18.75" stroke-dashoffset="40.65"/>
<path d="M940.0 551.8L563.0 551.8A21.0 21.0 0 0 1 542.0 530.8L542.0 506.0" fill="none" stroke="#215f9a" stroke-width="6.2" stroke-dasharray="24.7 18.75" stroke-dashoffset="35.25"/>
<path d="M542.0 506.0L542.0 117.8" fill="none" stroke="#215f9a" stroke-width="6.2" stroke-dasharray="24.7 18.75" stroke-dashoffset="34.85"/>
<text x="907.4" y="152.8" font-size="35" fill="#215f9a" textLength="40.4" lengthAdjust="spacingAndGlyphs">LR</text>
<text x="844.2" y="416" font-size="34" fill="#c04f15" textLength="39.8" lengthAdjust="spacingAndGlyphs">SR</text>
</svg>
</body></html>
